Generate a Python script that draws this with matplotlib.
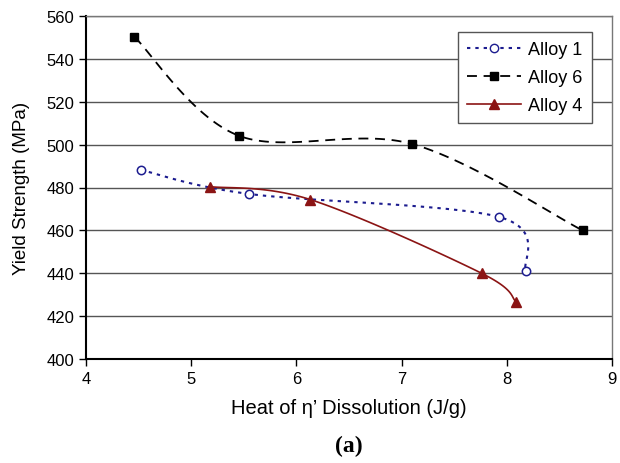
import numpy as np
import matplotlib
matplotlib.use('Agg')
import matplotlib.pyplot as plt

plt.rcParams['font.family'] = ['Liberation Sans', 'DejaVu Sans']

# data
alloy1_x = [4.52, 5.55, 7.93, 8.18]
alloy1_y = [488.2, 477.0, 466.2, 441.0]
alloy6_x = [4.46, 5.45, 7.10, 8.72]
alloy6_y = [550.3, 504.2, 500.3, 460.0]
alloy4_x = [5.18, 6.13, 7.76, 8.09]
alloy4_y = [480.4, 474.4, 440.0, 426.6]

x_ticks = [4, 5, 6, 7, 8, 9]
y_ticks = [400, 420, 440, 460, 480, 500, 520, 540, 560]


def smooth(xs, ys, sx=5.0 / 526, sy=160.0 / 343, n=40):
    # Excel-like smoothed line: cubic Bezier segments with Catmull-Rom tangents,
    # worked out in screen-proportional units
    p = np.column_stack([np.asarray(xs) / sx, np.asarray(ys) / sy])
    pts = []
    t = np.linspace(0, 1, n)[:, None]
    for i in range(len(p) - 1):
        p0 = p[max(i - 1, 0)]
        p1, p2 = p[i], p[i + 1]
        p3 = p[min(i + 2, len(p) - 1)]
        c1 = p1 + (p2 - p0) / 6
        c2 = p2 - (p3 - p1) / 6
        seg = ((1 - t) ** 3) * p1 + 3 * ((1 - t) ** 2) * t * c1 + 3 * (1 - t) * t ** 2 * c2 + t ** 3 * p2
        pts.append(seg)
    pts = np.vstack(pts)
    return pts[:, 0] * sx, pts[:, 1] * sy


fig = plt.figure(figsize=(6.2, 4.64), dpi=100)
ax = fig.add_axes([86 / 620, 1 - 360 / 464, 526 / 620, 343 / 464])

blue = '#1c1c8f'
red = '#8b1414'
dots = (0, (1.6, 2.4))
dashes = (0, (5.5, 3.7))

sx, sy = smooth(alloy1_x, alloy1_y)
ax.plot(sx, sy, color=blue, ls=dots, lw=1.5)
ax.plot(alloy1_x, alloy1_y, ls='none', marker='o', ms=6, mfc='white', mec=blue, mew=1.1)

sx, sy = smooth(alloy6_x, alloy6_y)
ax.plot(sx, sy, color='black', ls=dashes, lw=1.3)
ax.plot(alloy6_x, alloy6_y, ls='none', marker='s', ms=6, color='black')

sx, sy = smooth(alloy4_x, alloy4_y)
ax.plot(sx, sy, color=red, ls='-', lw=1.2)
ax.plot(alloy4_x, alloy4_y, ls='none', marker='^', ms=7.5, color=red)

# legend proxies
h1, = ax.plot([], [], color=blue, ls=dots, lw=1.5, marker='o', ms=6, mfc='white', mec=blue)
h6, = ax.plot([], [], color='black', ls=dashes, lw=1.3, marker='s', ms=6)
h4, = ax.plot([], [], color=red, ls='-', lw=1.2, marker='^', ms=7.5)
leg = ax.legend([h1, h6, h4], ['Alloy 1', 'Alloy 6', 'Alloy 4'],
                loc='upper left', bbox_to_anchor=(0.707, 0.952),
                fontsize=13, frameon=True, fancybox=False, framealpha=1,
                edgecolor='#555555', handlelength=3.0, borderpad=0.5,
                labelspacing=0.6, handletextpad=0.4, borderaxespad=0)
leg.get_frame().set_linewidth(1.0)

ax.set_xlim(4, 9)
ax.set_ylim(400, 560)
ax.set_xticks(x_ticks)
ax.set_yticks(y_ticks)
ax.yaxis.grid(True, color='#555555', lw=1.0)
ax.set_axisbelow(True)
ax.tick_params(labelsize=12, direction='out', length=5, width=1, colors='black')
for s in ['top', 'right']:
    ax.spines[s].set_color('#777777')
    ax.spines[s].set_linewidth(1.0)
for s in ['left', 'bottom']:
    ax.spines[s].set_color('black')
    ax.spines[s].set_linewidth(1.5)

ax.set_xlabel('Heat of η’ Dissolution (J/g)', fontsize=14.5, labelpad=9)
ax.set_ylabel('Yield Strength (MPa)', fontsize=13.5, labelpad=12)
fig.text(86 / 620 + 263 / 620, 1 - 446 / 464, '(a)', ha='center', va='center', fontsize=17,
         fontweight='bold', family='Liberation Serif')

fig.savefig('out.png', dpi=100)
